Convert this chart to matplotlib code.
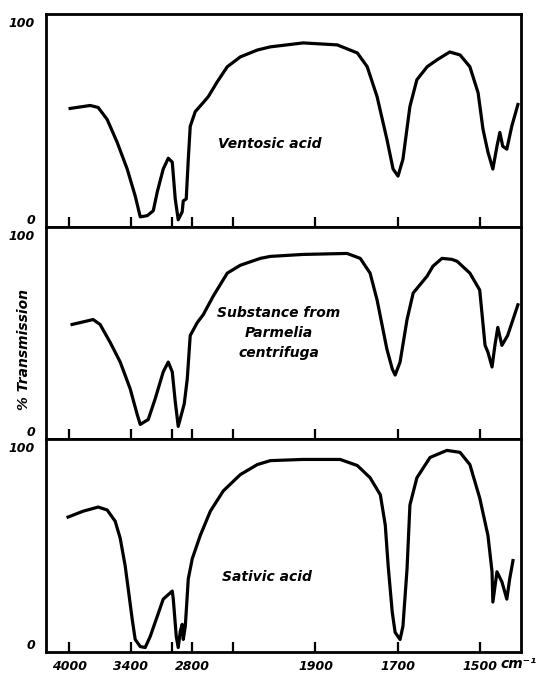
import matplotlib
matplotlib.use('Agg')
import matplotlib.pyplot as plt
import numpy as np

# wavenumber (cm-1) and % transmission
vent_wn = [3990, 3795, 3717, 3629, 3532, 3434, 3356, 3307, 3239, 3180, 3141, 3083,
           3034, 2995, 2966, 2937, 2898, 2888, 2859, 2839, 2820, 2771, 2693, 2644,
           2556, 2459, 2332, 2166, 2039, 1930, 1847, 1798, 1774, 1750, 1726, 1711,
           1699, 1687, 1670, 1653, 1628, 1604, 1573, 1548, 1524, 1504, 1492, 1480,
           1468, 1458, 1451, 1444, 1434, 1422, 1407]
vent_t = [56.1, 57.6, 56.6, 50.5, 38.9, 25.3, 11.6, 1.0, 1.6, 4.1, 13.7, 25.3,
          30.8, 28.8, 10.1, -0.5, 3.6, 9.1, 10.1, 30.3, 47.0, 54.5, 59.1, 62.1,
          69.7, 77.3, 82.3, 85.8, 87.4, 89.4, 88.4, 84.3, 77.3, 62.1, 40.4, 25.3,
          21.7, 30.3, 57.1, 70.7, 77.3, 80.8, 84.8, 83.3, 77.3, 64.1, 45.5, 33.9,
          25.3, 36.9, 43.9, 36.9, 35.4, 47.0, 58.1]

parm_wn = [3971, 3766, 3698, 3600, 3502, 3405, 3337, 3307, 3229, 3161, 3083, 3034,
           2995, 2966, 2937, 2898, 2878, 2849, 2820, 2751, 2693, 2595, 2459, 2332,
           2137, 2039, 1930, 1823, 1791, 1767, 1750, 1726, 1713, 1706, 1694, 1677,
           1662, 1628, 1614, 1592, 1568, 1555, 1524, 1500, 1487, 1480, 1470, 1463,
           1456, 1446, 1432, 1407]
parm_t = [54.3, 56.8, 54.3, 45.2, 35.2, 21.6, 8.6, 3.5, 6.0, 16.6, 30.2, 35.2,
          30.2, 15.1, 2.5, 10.1, 14.1, 26.6, 48.7, 55.3, 59.3, 68.8, 80.4, 84.4,
          87.9, 88.9, 89.9, 90.4, 87.9, 80.4, 66.8, 41.7, 31.7, 28.6, 35.2, 56.8,
          70.3, 78.9, 83.9, 87.9, 87.4, 86.4, 80.4, 71.8, 43.7, 40.2, 32.7, 43.7,
          52.8, 43.7, 48.7, 64.3]

sat_wn = [4010, 3863, 3717, 3629, 3551, 3502, 3454, 3424, 3385, 3356, 3307, 3259,
          3210, 3141, 3083, 2995, 2985, 2956, 2937, 2917, 2898, 2888, 2868, 2839,
          2800, 2722, 2624, 2498, 2332, 2166, 2039, 1930, 1840, 1798, 1767, 1742,
          1730, 1723, 1713, 1706, 1694, 1687, 1677, 1670, 1653, 1621, 1580, 1548,
          1524, 1500, 1480, 1470, 1468, 1458, 1446, 1434, 1427, 1419]
sat_t = [64.4, 67.4, 69.5, 68.0, 62.3, 53.6, 39.7, 27.9, 12.4, 2.2, -1.4, -1.9,
         3.7, 14.0, 22.7, 26.8, 22.7, 3.7, -1.9, 6.3, 9.9, 2.2, 8.9, 33.0,
         43.3, 55.1, 67.4, 77.7, 86.0, 91.1, 93.1, 93.7, 93.7, 90.6, 84.4, 75.7,
         60.3, 39.7, 16.0, 5.8, 2.2, 8.9, 38.1, 70.5, 84.4, 94.7, 98.3, 97.3,
         91.1, 74.1, 55.1, 36.6, 21.2, 36.6, 31.5, 22.7, 33.0, 42.3]

names = ['Ventosic acid', 'Substance from\nParmelia\ncentrifuga', 'Sativic acid']
name_pos = [(0.472, 0.39), (0.49, 0.50), (0.465, 0.35)]

tick_wn = [4000, 3400, 3000, 2800, 2400, 1900, 1700, 1500]
tick_lab = ['4000', '3400', '', '2800', '', '1900', '1700', '1500']

# chart paper changes scale at 2000 cm-1 (4x expanded below)
def fwd(w):
    w = np.asarray(w, dtype=float)
    return np.where(w >= 2000, w, 2000 - (2000 - w) * 4.0)

def inv(p):
    p = np.asarray(p, dtype=float)
    return np.where(p >= 2000, p, 2000 - (2000 - p) / 4.0)

font = dict(family='DejaVu Sans', weight='bold', style='italic')

fig, axes = plt.subplots(3, 1, sharex=True, figsize=(5.38, 6.76), dpi=100,
                         gridspec_kw={'hspace': 0})
fig.subplots_adjust(left=0.0855, right=0.968, bottom=0.036, top=0.979)

data = [(vent_wn, vent_t), (parm_wn, parm_t), (sat_wn, sat_t)]
for i, ax in enumerate(axes):
    wn, t = data[i]
    ax.set_xscale('function', functions=(fwd, inv))
    ax.plot(wn, t, color='black', lw=2.3, solid_joinstyle='round')
    ax.set_ylim(-4, 104)
    ax.set_yticks([0, 100])
    ax.set_yticklabels(['0', '100'], fontsize=9, **font)
    ax.tick_params(axis='y', length=0, pad=8)
    ax.set_xticks(tick_wn)
    ax.set_xticklabels(tick_lab, fontsize=9, **font)
    ax.tick_params(axis='x', direction='in', length=7, width=1.6, pad=6,
                   labelbottom=(i == 2))
    for s in ax.spines.values():
        s.set_linewidth(2)
    ax.text(name_pos[i][0], name_pos[i][1], names[i], transform=ax.transAxes,
            ha='center', va='center', multialignment='center',
            fontsize=10, linespacing=1.55, **font)
axes[0].set_xlim(4225, 1400)

axes[2].text(0.958, -0.057, 'cm\u207b\u00b9', transform=axes[2].transAxes,
             ha='left', va='center', fontsize=10, **font)
fig.text(0.045, 1 - 350 / 676, '% Transmission', rotation=90, ha='center',
         va='center', fontsize=10, **font)

fig.savefig('out.png', dpi=100)
